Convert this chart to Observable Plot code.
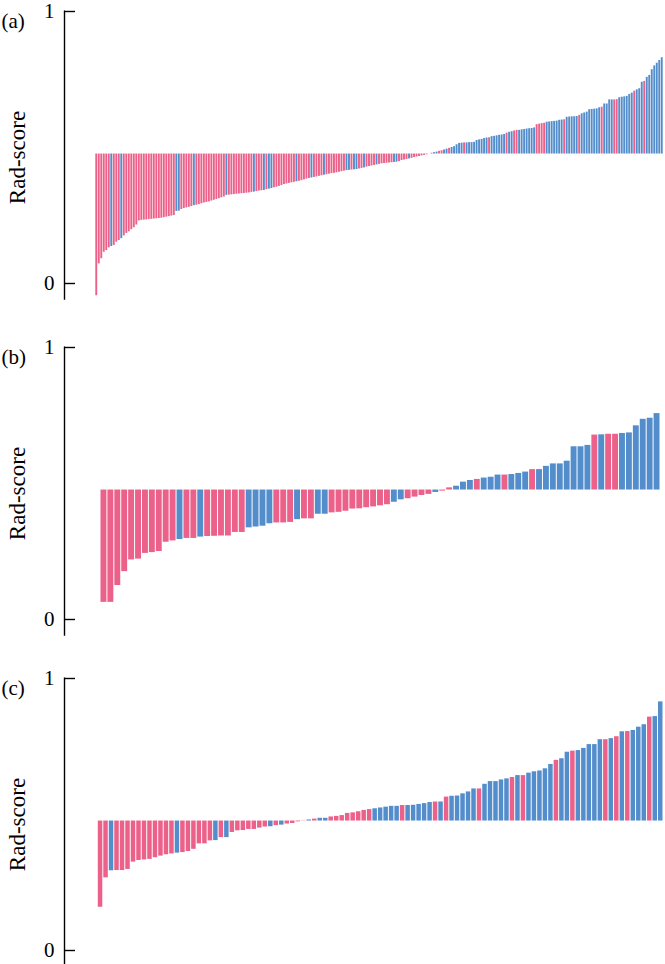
<!DOCTYPE html>
<html><head><meta charset="utf-8">
<script src="https://cdn.jsdelivr.net/npm/d3@7"></script>
<script src="https://cdn.jsdelivr.net/npm/@observablehq/plot@0.6"></script>
<style>
html,body{margin:0;padding:0;background:#fff;overflow:hidden;}
#wrap{position:relative;width:665px;height:964px;overflow:hidden;}
.panel{position:absolute;left:0;width:665px;}
</style></head><body><div id="wrap"></div>
<script>
// cut-off value where the bars start
const baseline = 0.476;
const tickValues = [0, 1];
const yLabel = "Rad-score";
const panelTags = ["(a)", "(b)", "(c)"];
const classColors = {P: "#ec6189", B: "#548dcc"};

// Panel (a)
const aScores = [
 -0.045,0.072,0.091,0.115,0.121,0.131,0.136,0.140,0.152,0.158,0.165,0.175,0.184,0.190,0.198,0.205,0.215,
 0.230,0.232,0.233,0.234,0.235,0.236,0.237,0.238,0.239,0.240,0.242,0.244,0.246,0.248,0.250,
 0.265,0.266,0.272,0.276,0.278,0.280,0.283,0.286,
 0.288,0.290,0.293,0.296,0.298,0.300,0.303,0.306,0.309,0.312,0.315,0.318,
 0.324,0.325,0.326,0.327,0.328,0.329,0.330,0.331,0.332,0.333,0.335,0.336,
 0.338,0.340,0.341,0.342,0.345,0.347,0.349,0.352,0.354,0.357,0.360,0.364,
 0.366,0.368,0.370,0.372,0.374,0.376,0.378,0.381,0.384,
 0.386,0.388,0.390,0.392,0.394,0.396,0.398,0.400,
 0.402,0.404,0.405,0.407,0.409,0.411,0.413,
 0.415,0.416,0.417,0.418,0.419,0.421,0.423,0.425,
 0.428,0.430,0.432,0.434,0.436,0.438,
 0.440,0.441,0.442,0.443,0.444,0.445,0.446,0.448,
 0.452,0.454,0.456,0.458,0.460,
 0.463,0.465,0.467,0.469,0.471,0.473,0.476,
 0.479,0.481,0.483,0.486,0.488,0.491,0.494,0.497,0.500,0.503,
 0.510,0.515,0.516,0.517,0.517,0.518,0.518,0.519,
 0.526,0.528,0.530,0.533,0.535,0.536,
 0.540,0.541,0.543,0.545,0.546,0.548,0.553,0.556,0.558,0.561,0.563,0.563,
 0.565,0.566,0.568,0.569,0.570,0.572,0.584,0.586,0.588,0.589,
 0.593,0.594,0.595,0.596,0.597,0.600,0.601,0.602,
 0.611,0.612,0.613,0.613,0.614,0.618,0.624,0.627,0.630,
 0.639,0.640,0.641,0.642,0.646,0.648,0.660,0.660,0.675,0.675,0.675,0.676,
 0.683,0.685,0.686,0.688,0.695,0.700,0.707,0.712,0.716,0.740,0.743,
 0.758,0.765,0.786,0.800,0.810,0.820,0.830
];
// P = pink group, B = blue group, ten bars per chunk
const aClasses = [
 "PPPPPPBPPP", "BPPPPPPPPP", "PPPPPPPPPP", "PPBBPPPPPB", "PPPPPPPPPP",
 "PPBPPPPPPP", "PPPBPPPBPB", "BPPPPPPPPP", "BPPPPPBPPP", "PBPPPPPPPP",
 "BBPBBPPBPP", "PPBPPPPPPB", "BPPPPBPPPP", "PPPPPBBPPB", "BPBBBBBPBB",
 "BBBBBBBPBB", "BBBBPBBPPB", "BBBBBBPPPP", "BBBBBBBPBB", "BBBPBBBBBB",
 "BBPBBBBPPB", "BBBBBPBBBP", "BBBBBBB"
].join("").split("");

// Panel (b)
const bScores = [
 0.063,0.063,0.125,0.176,0.219,0.222,0.243,0.246,0.250,0.284,0.289,0.294,0.298,0.298,0.303,0.305,
 0.306,0.307,0.307,0.320,0.320,0.337,0.340,0.343,0.352,0.355,0.355,0.357,0.367,0.370,0.370,0.387,
 0.387,0.392,0.394,0.398,0.406,0.407,0.411,0.414,0.418,0.422,0.431,0.440,0.444,0.450,0.456,0.460,
 0.467,0.472,0.484,0.490,0.505,0.511,0.515,0.520,0.523,0.531,0.531,0.533,0.537,0.542,0.551,0.551,
 0.563,0.572,0.572,0.582,0.635,0.635,0.640,0.678,0.679,0.681,0.681,0.684,0.686,0.712,0.736,0.740,0.757
];
const bClasses = [
 "PPPPPPPPPP", "PBPPBPPPPP", "PBBBBPPPBP", "PBBPPPPPPP",
 "PPBBPPPPBP", "PBBBPBBBPB", "BBPBBBBBBB", "BPBPPBBBBB", "B"
].join("").split("");

// Panel (c)
const cScores = [
 0.159,0.267,0.293,0.294,0.294,0.298,0.325,0.331,0.333,0.335,0.341,0.347,0.352,0.355,0.358,0.360,
 0.364,0.372,0.392,0.392,0.403,0.404,0.415,0.415,0.434,0.440,0.441,0.445,0.445,0.450,0.454,0.455,
 0.459,0.461,0.465,0.467,0.473,0.477,0.480,0.483,0.486,0.486,0.491,0.493,0.496,0.504,0.506,0.510,
 0.515,0.518,0.521,0.524,0.527,0.530,0.530,0.533,0.533,0.534,0.537,0.540,0.544,0.546,0.546,0.564,
 0.567,0.568,0.576,0.583,0.594,0.594,0.611,0.621,0.621,0.627,0.631,0.636,0.643,0.643,0.652,0.657,
 0.660,0.668,0.684,0.699,0.705,0.729,0.733,0.735,0.743,0.757,0.757,0.775,0.775,0.779,0.786,0.804,
 0.805,0.809,0.821,0.830,0.858,0.860,0.914
];
const cClasses = [
 "PPBPPPPPPP", "PPPPBPPPPP", "PBPBPPPPPP", "PBPBPPPPBP", "BBPPPPPPPP",
 "BBBBBPBBBB", "BPBPBBBBBP", "BBBBBPBPBB", "BBBPBBPBBB", "BBPBPBPBBB",
 "PBB"
].join("").split("");

const panels = [
  {tag: panelTags[0], scores: aScores, classes: aClasses, top: 0, start: 95, end: 663},
  {tag: panelTags[1], scores: bScores, classes: bClasses, top: 336, start: 100, end: 660},
  {tag: panelTags[2], scores: cScores, classes: cClasses, top: 667, start: 97.3, end: 663}
];

const W = 665, H = 322, axisX = 64, yTop = 11, yZero = 283;
const font = "'Liberation Serif', 'DejaVu Serif', serif";
const wrap = document.getElementById("wrap");

for (const p of panels) {
  const n = p.scores.length;
  const data = p.scores.map((v, i) => ({i, v, c: p.classes[i]}));
  const perBar = (p.end - p.start) / n;
  const lead = (p.start - axisX) / perBar;
  const xDomain = [-lead, n];
  const gap = n > 150 ? 0.3 : 0.5;
  const chart = Plot.plot({
    width: W, height: H,
    marginLeft: axisX, marginRight: W - p.end, marginTop: yTop, marginBottom: H - yZero,
    style: {fontFamily: font, fontSize: "20px", background: "white", color: "black"},
    x: {domain: xDomain, axis: null},
    y: {domain: [0, 1], axis: null},
    color: {domain: ["P", "B"], range: [classColors.P, classColors.B]},
    marks: [
      Plot.rect(data, {x1: d => d.i, x2: d => d.i + 1, y1: baseline, y2: "v", fill: "c", insetLeft: gap, insetRight: gap}),
      Plot.ruleX([xDomain[0]], {y1: -0.062, y2: 1.002, stroke: "black", strokeWidth: 1.4}),
      Plot.ruleY(tickValues, {stroke: "black", strokeWidth: 1.4, insetRight: (p.end - axisX) - 11}),
      Plot.axisY(tickValues, {tickSize: 0, tickPadding: 10, tickFormat: d => String(d), fontSize: 21, fontFamily: font, label: null}),
      Plot.text([yLabel], {frameAnchor: "left", textAnchor: "middle", rotate: -90, dx: -47, dy: 10, fontSize: 23, fontFamily: font}),
      Plot.text([p.tag], {frameAnchor: "top-left", textAnchor: "start", dx: -63, dy: 2, fontSize: 21, fontFamily: font})
    ]
  });
  const div = document.createElement("div");
  div.className = "panel";
  div.style.top = p.top + "px";
  div.appendChild(chart);
  wrap.appendChild(div);
}
</script></body></html>
